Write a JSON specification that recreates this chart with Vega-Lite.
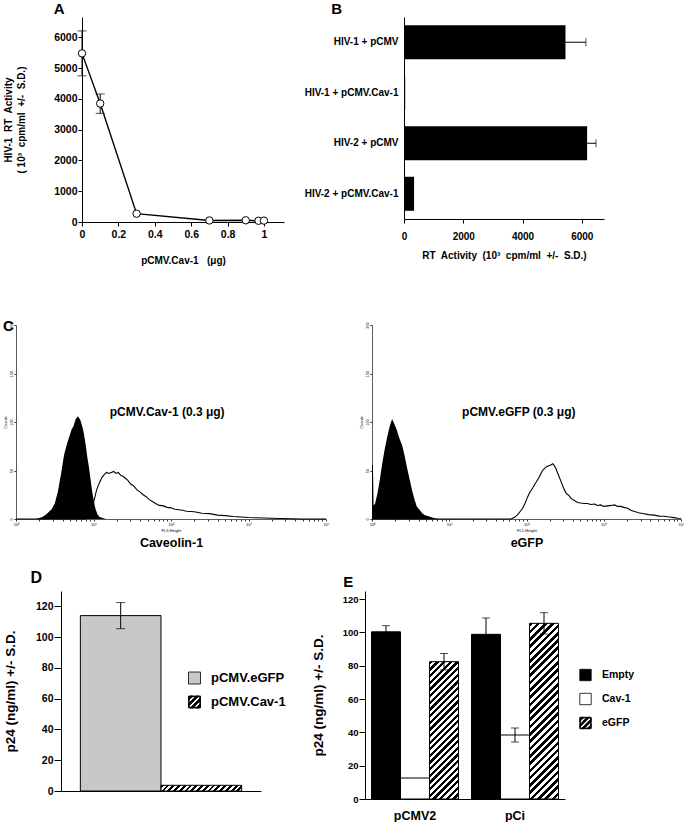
{
"$schema": "https://vega.github.io/schema/vega-lite/v6.json",
"padding": {"left": 0, "top": 2, "right": 0, "bottom": 0},
"config": {
  "font": "Liberation Sans",
  "view": {"stroke": null},
  "axis": {"grid": false, "labelOverlap": false, "labelFont": "Liberation Sans", "titleFont": "Liberation Sans", "labelFontWeight": "bold", "titleFontWeight": "bold", "labelColor": "#000", "titleColor": "#000", "domainColor": "#000", "tickColor": "#000", "domainWidth": 1, "tickWidth": 1},
  "title": {"font": "Liberation Sans", "fontWeight": "bold", "color": "#000", "fontSize": 15, "anchor": "start"},
  "text": {"font": "Liberation Sans", "fontWeight": "bold", "color": "#000"}
},
"datasets": {
  "a": [
    {"dose": 0, "rt": 5480, "lo": 4750, "hi": 6210},
    {"dose": 0.1, "rt": 3850, "lo": 3530, "hi": 4160},
    {"dose": 0.3, "rt": 270},
    {"dose": 0.7, "rt": 50},
    {"dose": 0.9, "rt": 55},
    {"dose": 0.97, "rt": 40},
    {"dose": 1.0, "rt": 45}
  ],
  "b": [
    {"cond": "HIV-1 + pCMV", "rt": 5450, "lo": 4800, "hi": 6140},
    {"cond": "HIV-1 + pCMV.Cav-1", "rt": 40},
    {"cond": "HIV-2 + pCMV", "rt": 6180, "lo": 5880, "hi": 6480},
    {"cond": "HIV-2 + pCMV.Cav-1", "rt": 340}
  ],
  "d": [
    {"vec": "pCMV.eGFP", "p24": 114, "lo": 105.5, "hi": 122.5},
    {"vec": "pCMV.Cav-1", "p24": 3.7}
  ],
  "e": [
    {"grp": "pCMV2", "ser": "Empty", "p24": 100.3, "lo": 96.6, "hi": 104},
    {"grp": "pCMV2", "ser": "Cav-1", "p24": 12.6},
    {"grp": "pCMV2", "ser": "eGFP", "p24": 82.4, "lo": 77.5, "hi": 87.3},
    {"grp": "pCi", "ser": "Empty", "p24": 98.8, "lo": 89, "hi": 108.6},
    {"grp": "pCi", "ser": "Cav-1", "p24": 38.4, "lo": 34.2, "hi": 42.6},
    {"grp": "pCi", "ser": "eGFP", "p24": 105.4, "lo": 99, "hi": 111.8}
  ],
  "c1fill": [
    {"lg": 0.2, "n": 0}, {"lg": 0.26, "n": 0}, {"lg": 0.3, "n": 1}, {"lg": 0.34, "n": 2}, {"lg": 0.38, "n": 4},
    {"lg": 0.42, "n": 7}, {"lg": 0.46, "n": 10}, {"lg": 0.5, "n": 16}, {"lg": 0.54, "n": 28}, {"lg": 0.58, "n": 46},
    {"lg": 0.62, "n": 66}, {"lg": 0.66, "n": 78}, {"lg": 0.7, "n": 88}, {"lg": 0.72, "n": 93}, {"lg": 0.74, "n": 95},
    {"lg": 0.77, "n": 103}, {"lg": 0.8, "n": 106}, {"lg": 0.83, "n": 102}, {"lg": 0.86, "n": 94}, {"lg": 0.88, "n": 86},
    {"lg": 0.9, "n": 76}, {"lg": 0.92, "n": 64}, {"lg": 0.94, "n": 54}, {"lg": 0.96, "n": 42}, {"lg": 0.98, "n": 30},
    {"lg": 1.0, "n": 20}, {"lg": 1.02, "n": 12}, {"lg": 1.05, "n": 5}, {"lg": 1.08, "n": 2}, {"lg": 1.12, "n": 1}, {"lg": 1.16, "n": 0}
  ],
  "c1open": [
    {"lg": 0, "n": 0}, {"lg": 0.9, "n": 0}, {"lg": 0.94, "n": 3}, {"lg": 0.98, "n": 10}, {"lg": 1.01, "n": 20},
    {"lg": 1.04, "n": 30}, {"lg": 1.08, "n": 38}, {"lg": 1.11, "n": 43}, {"lg": 1.14, "n": 46}, {"lg": 1.17, "n": 48},
    {"lg": 1.2, "n": 47}, {"lg": 1.23, "n": 48}, {"lg": 1.26, "n": 49}, {"lg": 1.29, "n": 47}, {"lg": 1.32, "n": 48},
    {"lg": 1.35, "n": 45}, {"lg": 1.38, "n": 44}, {"lg": 1.41, "n": 42}, {"lg": 1.44, "n": 40}, {"lg": 1.48, "n": 36},
    {"lg": 1.52, "n": 34}, {"lg": 1.56, "n": 30}, {"lg": 1.6, "n": 28}, {"lg": 1.64, "n": 25}, {"lg": 1.68, "n": 23},
    {"lg": 1.72, "n": 20}, {"lg": 1.76, "n": 18}, {"lg": 1.8, "n": 16}, {"lg": 1.85, "n": 14}, {"lg": 1.9, "n": 13.5},
    {"lg": 1.95, "n": 12}, {"lg": 2.0, "n": 11.5}, {"lg": 2.05, "n": 10}, {"lg": 2.1, "n": 9.5}, {"lg": 2.15, "n": 9},
    {"lg": 2.2, "n": 8}, {"lg": 2.3, "n": 7.5}, {"lg": 2.4, "n": 6}, {"lg": 2.5, "n": 5.5}, {"lg": 2.6, "n": 4},
    {"lg": 2.7, "n": 3.5}, {"lg": 2.8, "n": 2.5}, {"lg": 2.9, "n": 2}, {"lg": 3.0, "n": 1.5}, {"lg": 3.2, "n": 1},
    {"lg": 3.4, "n": 0.5}, {"lg": 3.7, "n": 0}, {"lg": 4.0, "n": 0}
  ],
  "c2fill": [
    {"lg": 0, "n": 56}, {"lg": 0.012, "n": 56}, {"lg": 0.02, "n": 14}, {"lg": 0.04, "n": 16}, {"lg": 0.07, "n": 26},
    {"lg": 0.1, "n": 40}, {"lg": 0.13, "n": 56}, {"lg": 0.16, "n": 70}, {"lg": 0.195, "n": 84}, {"lg": 0.23, "n": 96},
    {"lg": 0.26, "n": 103}, {"lg": 0.29, "n": 98}, {"lg": 0.32, "n": 92}, {"lg": 0.35, "n": 84}, {"lg": 0.39, "n": 76},
    {"lg": 0.42, "n": 66}, {"lg": 0.45, "n": 54}, {"lg": 0.49, "n": 40}, {"lg": 0.52, "n": 29}, {"lg": 0.55, "n": 20},
    {"lg": 0.58, "n": 13}, {"lg": 0.62, "n": 9}, {"lg": 0.65, "n": 6}, {"lg": 0.68, "n": 4}, {"lg": 0.72, "n": 3},
    {"lg": 0.76, "n": 2}, {"lg": 0.8, "n": 1}, {"lg": 0.86, "n": 0}
  ],
  "c2open": [
    {"lg": 0, "n": 0}, {"lg": 1.8, "n": 0}, {"lg": 1.85, "n": 2}, {"lg": 1.88, "n": 4}, {"lg": 1.92, "n": 8},
    {"lg": 1.95, "n": 11}, {"lg": 1.98, "n": 16}, {"lg": 2.01, "n": 22}, {"lg": 2.04, "n": 27}, {"lg": 2.08, "n": 32},
    {"lg": 2.11, "n": 36}, {"lg": 2.14, "n": 40}, {"lg": 2.17, "n": 44}, {"lg": 2.2, "n": 49}, {"lg": 2.23, "n": 52},
    {"lg": 2.26, "n": 54}, {"lg": 2.29, "n": 55}, {"lg": 2.32, "n": 56}, {"lg": 2.34, "n": 57}, {"lg": 2.36, "n": 55},
    {"lg": 2.38, "n": 52}, {"lg": 2.4, "n": 48}, {"lg": 2.42, "n": 44}, {"lg": 2.45, "n": 38}, {"lg": 2.48, "n": 32},
    {"lg": 2.51, "n": 27}, {"lg": 2.55, "n": 24}, {"lg": 2.58, "n": 21}, {"lg": 2.62, "n": 19}, {"lg": 2.66, "n": 17},
    {"lg": 2.7, "n": 16.5}, {"lg": 2.75, "n": 16}, {"lg": 2.79, "n": 16}, {"lg": 2.83, "n": 15}, {"lg": 2.88, "n": 15.5},
    {"lg": 2.92, "n": 14}, {"lg": 2.96, "n": 14.5}, {"lg": 3.0, "n": 13}, {"lg": 3.05, "n": 13.5}, {"lg": 3.1, "n": 14},
    {"lg": 3.14, "n": 14.5}, {"lg": 3.18, "n": 13}, {"lg": 3.22, "n": 13}, {"lg": 3.26, "n": 12}, {"lg": 3.31, "n": 11},
    {"lg": 3.35, "n": 9}, {"lg": 3.39, "n": 8}, {"lg": 3.45, "n": 6.5}, {"lg": 3.52, "n": 5.5}, {"lg": 3.58, "n": 4.5},
    {"lg": 3.65, "n": 4}, {"lg": 3.72, "n": 3}, {"lg": 3.78, "n": 2.8}, {"lg": 3.85, "n": 2}, {"lg": 3.91, "n": 1.4},
    {"lg": 3.96, "n": 0.8}, {"lg": 4.0, "n": 0.5}
  ]
},
"columns": 1,
"align": "none",
"spacing": 52,
"concat": [
  {"columns": 2, "align": "none", "spacing": 0, "concat": [
    {"width": 1, "height": 1, "view": {"stroke": "transparent"}, "data": {"values": []}, "mark": "rule", "encoding": {}},
    {"columns": 2, "align": "none", "spacing": 20, "concat": [
      {
        "width": 202, "height": 205,
        "title": {"text": "A", "dx": 50, "offset": 0},
        "layer": [
          {"data": {"name": "a"}, "mark": {"type": "line", "color": "#000", "strokeWidth": 1.4},
           "encoding": {
             "x": {"field": "dose", "type": "quantitative", "scale": {"domain": [0, 1.11], "nice": false, "zero": false},
               "axis": {"values": [0, 0.2, 0.4, 0.6, 0.8, 1], "tickCount": 20, "format": "~g", "labelOverlap": false, "tickSize": 4, "labelPadding": 3, "labelFontSize": 10.5, "labelFlush": false, "title": "pCMV.Cav-1\u00a0\u00a0 (μg)", "titleFontSize": 10, "titlePadding": 16}},
             "y": {"field": "rt", "type": "quantitative", "scale": {"domain": [0, 6662], "nice": false},
               "axis": {"values": [0, 1000, 2000, 3000, 4000, 5000, 6000], "tickCount": 20, "format": "d", "labelOverlap": false, "tickSize": 4, "labelPadding": 1, "labelFontSize": 10.5, "title": ["HIV-1\u00a0 RT\u00a0 Activity", "(\u00a010³\u00a0 cpm/ml\u00a0 +/-\u00a0 S.D.)"], "titleFontSize": 10, "titleLineHeight": 13, "titlePadding": 27}}
           }},
          {"data": {"name": "a"}, "transform": [{"filter": "isValid(datum.hi)"}], "mark": {"type": "rule", "color": "#000", "strokeWidth": 1},
           "encoding": {"x": {"field": "dose", "type": "quantitative"}, "y": {"field": "lo", "type": "quantitative"}, "y2": {"field": "hi"}}},
          {"data": {"name": "a"}, "transform": [{"filter": "isValid(datum.hi)"}], "mark": {"type": "tick", "orient": "horizontal", "size": 9, "thickness": 1, "color": "#000"},
           "encoding": {"x": {"field": "dose", "type": "quantitative"}, "y": {"field": "hi", "type": "quantitative"}}},
          {"data": {"name": "a"}, "transform": [{"filter": "isValid(datum.lo)"}], "mark": {"type": "tick", "orient": "horizontal", "size": 9, "thickness": 1, "color": "#000"},
           "encoding": {"x": {"field": "dose", "type": "quantitative"}, "y": {"field": "lo", "type": "quantitative"}}},
          {"data": {"name": "a"}, "mark": {"type": "point", "shape": "circle", "filled": true, "fill": "#fff", "stroke": "#000", "strokeWidth": 1, "size": 55, "opacity": 1},
           "encoding": {"x": {"field": "dose", "type": "quantitative"}, "y": {"field": "rt", "type": "quantitative"}}}
        ]
      },
      {
        "width": 200, "height": 202,
        "title": {"text": "B", "dx": 27, "offset": 0},
        "layer": [
          {"data": {"name": "b"}, "mark": {"type": "bar", "color": "#000"},
           "encoding": {
             "y": {"field": "cond", "type": "nominal", "scale": {"domain": ["HIV-1 + pCMV", "HIV-1 + pCMV.Cav-1", "HIV-2 + pCMV", "HIV-2 + pCMV.Cav-1"], "paddingInner": 0.327, "paddingOuter": 0.163},
               "axis": {"title": null, "ticks": false, "labelPadding": 6, "labelFontSize": 10}},
             "x": {"field": "rt", "type": "quantitative", "scale": {"domain": [0, 6750], "nice": false},
               "axis": {"values": [0, 2000, 4000, 6000], "tickCount": 20, "format": "d", "labelOverlap": false, "tickSize": 4, "labelPadding": 8, "labelFontSize": 10, "labelFlush": false, "title": "RT\u00a0 Activity\u00a0 (10³\u00a0 cpm/ml\u00a0 +/-\u00a0 S.D.)", "titleFontSize": 10, "titlePadding": 9}}
           }},
          {"data": {"name": "b"}, "transform": [{"filter": "isValid(datum.hi)"}], "mark": {"type": "rule", "color": "#000", "strokeWidth": 1},
           "encoding": {"y": {"field": "cond", "type": "nominal"}, "x": {"field": "lo", "type": "quantitative"}, "x2": {"field": "hi"}}},
          {"data": {"name": "b"}, "transform": [{"filter": "isValid(datum.hi)"}], "mark": {"type": "tick", "size": 8, "thickness": 1, "color": "#000"},
           "encoding": {"y": {"field": "cond", "type": "nominal"}, "x": {"field": "hi", "type": "quantitative"}}}
        ]
      }
    ]}
  ]},
  {"columns": 1, "align": "none", "spacing": 21, "concat": [
    {"columns": 2, "align": "none", "spacing": 0, "concat": [
      {"width": 1, "height": 1, "view": {"stroke": "transparent"}, "data": {"values": []}, "mark": "rule", "encoding": {}},
      {"columns": 2, "align": "none", "spacing": 29, "concat": [
        {
          "width": 310, "height": 194,
          "title": {"text": "C", "dx": 0, "offset": -12},
          "layer": [
            {"data": {"name": "c1open"}, "mark": {"type": "line", "color": "#000", "strokeWidth": 1.1},
             "encoding": {
               "x": {"field": "lg", "type": "quantitative", "scale": {"domain": [0, 4], "nice": false},
                 "axis": {"values": [0, 0.301, 0.477, 0.602, 0.699, 0.778, 0.845, 0.903, 0.954, 1, 1.301, 1.477, 1.602, 1.699, 1.778, 1.845, 1.903, 1.954, 2, 2.301, 2.477, 2.602, 2.699, 2.778, 2.845, 2.903, 2.954, 3, 3.301, 3.477, 3.602, 3.699, 3.778, 3.845, 3.903, 3.954, 4], "tickCount": 60,
                   "labelExpr": "datum.value == 0 ? '10⁰' : datum.value == 1 ? '10¹' : datum.value == 2 ? ['10²', 'FL3-Height'] : datum.value == 3 ? '10³' : datum.value == 4 ? '10⁴' : ''",
                   "labelFontSize": 4, "labelFontWeight": "normal", "labelLineHeight": 6, "labelPadding": 1, "labelFlush": false, "labelOverlap": false, "tickSize": 2, "tickColor": "#333", "domainColor": "#333", "domainWidth": 0.8,
                   "title": "Caveolin-1", "titleFontSize": 12.5, "titlePadding": 4}},
               "y": {"field": "n", "type": "quantitative", "scale": {"domain": [0, 200], "nice": false},
                 "axis": {"values": [0, 50, 100, 150, 200], "tickCount": 20, "labelOverlap": false, "labelFontSize": 4, "labelFontWeight": "normal", "labelAngle": -90, "labelPadding": 1, "tickSize": 2, "tickColor": "#333", "domainColor": "#333", "domainWidth": 0.8, "title": "Counts", "titleFontSize": 4, "titleFontWeight": "normal", "titlePadding": 2}}
             }},
            {"data": {"name": "c1fill"}, "mark": {"type": "area", "color": "#000"},
             "encoding": {"x": {"field": "lg", "type": "quantitative"}, "y": {"field": "n", "type": "quantitative"}}},
            {"data": {"values": [{"t": "pCMV.Cav-1 (0.3 μg)"}]}, "mark": {"type": "text", "fontSize": 12, "fontWeight": "bold"},
             "encoding": {"text": {"field": "t"}, "x": {"datum": 1.95}, "y": {"datum": 110}}}
          ]
        },
        {
          "width": 309, "height": 194,
          "layer": [
            {"data": {"name": "c2open"}, "mark": {"type": "line", "color": "#000", "strokeWidth": 1.1},
             "encoding": {
               "x": {"field": "lg", "type": "quantitative", "scale": {"domain": [0, 4], "nice": false},
                 "axis": {"values": [0, 0.301, 0.477, 0.602, 0.699, 0.778, 0.845, 0.903, 0.954, 1, 1.301, 1.477, 1.602, 1.699, 1.778, 1.845, 1.903, 1.954, 2, 2.301, 2.477, 2.602, 2.699, 2.778, 2.845, 2.903, 2.954, 3, 3.301, 3.477, 3.602, 3.699, 3.778, 3.845, 3.903, 3.954, 4], "tickCount": 60,
                   "labelExpr": "datum.value == 0 ? '10⁰' : datum.value == 1 ? '10¹' : datum.value == 2 ? ['10²', 'FL1-Height'] : datum.value == 3 ? '10³' : datum.value == 4 ? '10⁴' : ''",
                   "labelFontSize": 4, "labelFontWeight": "normal", "labelLineHeight": 6, "labelPadding": 1, "labelFlush": false, "labelOverlap": false, "tickSize": 2, "tickColor": "#333", "domainColor": "#333", "domainWidth": 0.8,
                   "title": "eGFP", "titleFontSize": 12.5, "titlePadding": 4}},
               "y": {"field": "n", "type": "quantitative", "scale": {"domain": [0, 200], "nice": false},
                 "axis": {"values": [0, 50, 100, 150, 200], "tickCount": 20, "labelOverlap": false, "labelFontSize": 4, "labelFontWeight": "normal", "labelAngle": -90, "labelPadding": 1, "tickSize": 2, "tickColor": "#333", "domainColor": "#333", "domainWidth": 0.8, "title": "Counts", "titleFontSize": 4, "titleFontWeight": "normal", "titlePadding": 2}}
             }},
            {"data": {"name": "c2fill"}, "mark": {"type": "area", "color": "#000"},
             "encoding": {"x": {"field": "lg", "type": "quantitative"}, "y": {"field": "n", "type": "quantitative"}}},
            {"data": {"values": [{"t": "pCMV.eGFP (0.3 μg)"}]}, "mark": {"type": "text", "fontSize": 12, "fontWeight": "bold"},
             "encoding": {"text": {"field": "t"}, "x": {"datum": 1.9}, "y": {"datum": 110}}}
          ]
        }
      ]}
    ]},
    {"columns": 2, "align": "none", "spacing": 0, "concat": [
      {"width": 1, "height": 1, "view": {"stroke": "transparent"}, "data": {"values": []}, "mark": "rule", "encoding": {}},
      {"columns": 2, "align": "none", "spacing": 25, "resolve": {"scale": {"fill": "independent", "shape": "independent"}}, "concat": [
        {
          "width": 200, "height": 200,
          "title": {"text": "D", "fontSize": 16, "dx": 27, "offset": 5},
          "resolve": {"scale": {"x": "independent", "y": "independent"}},
          "layer": [
            {"layer": [
              {"data": {"name": "d"}, "transform": [{"filter": "datum.vec == 'pCMV.eGFP'"}], "mark": {"type": "bar", "fill": "#c8c8c8", "stroke": "#000", "strokeWidth": 1},
               "encoding": {
                 "x": {"field": "vec", "type": "nominal", "scale": {"domain": ["pCMV.eGFP", "pCMV.Cav-1"], "paddingInner": 0, "paddingOuter": 0.24}, "axis": {"title": null, "labels": false, "ticks": false}},
                 "y": {"field": "p24", "type": "quantitative", "scale": {"domain": [0, 130], "nice": false},
                   "axis": {"values": [0, 20, 40, 60, 80, 100, 120], "tickCount": 20, "labelOverlap": false, "tickSize": 7, "labelPadding": 1, "labelFontSize": 10.5, "title": "p24 (ng/ml) +/- S.D.", "titleFontSize": 13.5, "titlePadding": 18}}
               }},
              {"data": {"name": "d"}, "transform": [{"filter": "datum.vec == 'pCMV.Cav-1'"}],
               "mark": {"type": "bar", "stroke": "#000", "strokeWidth": 1, "fill": {"gradient": "linear", "x1": 0, "y1": 0, "x2": 1.0655, "y2": 0.0754, "stops": [{"offset": 0, "color": "#000"}, {"offset": 0.0333, "color": "#000"}, {"offset": 0.0333, "color": "#fff"}, {"offset": 0.0667, "color": "#fff"}, {"offset": 0.0667, "color": "#000"}, {"offset": 0.1, "color": "#000"}, {"offset": 0.1, "color": "#fff"}, {"offset": 0.1333, "color": "#fff"}, {"offset": 0.1333, "color": "#000"}, {"offset": 0.1667, "color": "#000"}, {"offset": 0.1667, "color": "#fff"}, {"offset": 0.2, "color": "#fff"}, {"offset": 0.2, "color": "#000"}, {"offset": 0.2333, "color": "#000"}, {"offset": 0.2333, "color": "#fff"}, {"offset": 0.2667, "color": "#fff"}, {"offset": 0.2667, "color": "#000"}, {"offset": 0.3, "color": "#000"}, {"offset": 0.3, "color": "#fff"}, {"offset": 0.3333, "color": "#fff"}, {"offset": 0.3333, "color": "#000"}, {"offset": 0.3667, "color": "#000"}, {"offset": 0.3667, "color": "#fff"}, {"offset": 0.4, "color": "#fff"}, {"offset": 0.4, "color": "#000"}, {"offset": 0.4333, "color": "#000"}, {"offset": 0.4333, "color": "#fff"}, {"offset": 0.4667, "color": "#fff"}, {"offset": 0.4667, "color": "#000"}, {"offset": 0.5, "color": "#000"}, {"offset": 0.5, "color": "#fff"}, {"offset": 0.5333, "color": "#fff"}, {"offset": 0.5333, "color": "#000"}, {"offset": 0.5667, "color": "#000"}, {"offset": 0.5667, "color": "#fff"}, {"offset": 0.6, "color": "#fff"}, {"offset": 0.6, "color": "#000"}, {"offset": 0.6333, "color": "#000"}, {"offset": 0.6333, "color": "#fff"}, {"offset": 0.6667, "color": "#fff"}, {"offset": 0.6667, "color": "#000"}, {"offset": 0.7, "color": "#000"}, {"offset": 0.7, "color": "#fff"}, {"offset": 0.7333, "color": "#fff"}, {"offset": 0.7333, "color": "#000"}, {"offset": 0.7667, "color": "#000"}, {"offset": 0.7667, "color": "#fff"}, {"offset": 0.8, "color": "#fff"}, {"offset": 0.8, "color": "#000"}, {"offset": 0.8333, "color": "#000"}, {"offset": 0.8333, "color": "#fff"}, {"offset": 0.8667, "color": "#fff"}, {"offset": 0.8667, "color": "#000"}, {"offset": 0.9, "color": "#000"}, {"offset": 0.9, "color": "#fff"}, {"offset": 0.9333, "color": "#fff"}, {"offset": 0.9333, "color": "#000"}, {"offset": 0.9667, "color": "#000"}, {"offset": 0.9667, "color": "#fff"}, {"offset": 1, "color": "#fff"}]}},
               "encoding": {"x": {"field": "vec", "type": "nominal"}, "y": {"field": "p24", "type": "quantitative"}}},
              {"data": {"name": "d"}, "transform": [{"filter": "isValid(datum.hi)"}], "mark": {"type": "rule", "color": "#000", "strokeWidth": 1},
               "encoding": {"x": {"field": "vec", "type": "nominal"}, "y": {"field": "lo", "type": "quantitative"}, "y2": {"field": "hi"}}},
              {"data": {"name": "d"}, "transform": [{"filter": "isValid(datum.hi)"}], "mark": {"type": "tick", "size": 9, "thickness": 1, "color": "#000"},
               "encoding": {"x": {"field": "vec", "type": "nominal"}, "y": {"field": "hi", "type": "quantitative"}}},
              {"data": {"name": "d"}, "transform": [{"filter": "isValid(datum.lo)"}], "mark": {"type": "tick", "size": 9, "thickness": 1, "color": "#000"},
               "encoding": {"x": {"field": "vec", "type": "nominal"}, "y": {"field": "lo", "type": "quantitative"}}}
            ]},
            {"layer": [
              {"data": {"name": "d"}, "mark": {"type": "point", "filled": true, "opacity": 1, "stroke": "#000", "strokeWidth": 0.8, "size": 144},
               "encoding": {
                 "x": {"datum": 0.6675, "type": "quantitative", "scale": {"domain": [0, 1], "nice": false}, "axis": null},
                 "y": {"field": "vec", "type": "nominal", "scale": {"type": "point", "domain": ["pCMV.eGFP", "pCMV.Cav-1"], "range": [87, 111], "padding": 0}, "axis": null},
                 "fill": {"field": "vec", "type": "nominal", "scale": {"domain": ["pCMV.eGFP", "pCMV.Cav-1"], "range": ["#c8c8c8", "#000"]}, "legend": null},
                 "shape": {"field": "vec", "type": "nominal", "scale": {"domain": ["pCMV.eGFP", "pCMV.Cav-1"], "range": ["square", "M-1,-1H1V1H-1ZM-0.88,-0.88V0.88H0.88V-0.88ZM-1,-0.75L-0.75,-1L-0.25,-1L-1,-0.25ZM-1,0.25L0.25,-1L0.75,-1L-1,0.75ZM-0.75,1L1,-0.75L1,-0.25L-0.25,1ZM0.25,1L1,0.25L1,0.75L0.75,1Z"]}, "legend": null}
               }},
              {"data": {"name": "d"}, "mark": {"type": "text", "align": "left", "baseline": "middle", "fontSize": 13, "fontWeight": "bold"},
               "encoding": {"x": {"datum": 0.75, "type": "quantitative"}, "y": {"field": "vec", "type": "nominal"}, "text": {"field": "vec"}}}
            ]}
          ]
        },
        {
          "width": 200, "height": 208,
          "title": {"text": "E", "dx": 32, "offset": 1},
          "resolve": {"scale": {"x": "independent", "y": "independent"}},
          "layer": [
            {"layer": [
              {"data": {"name": "e"}, "transform": [{"filter": "datum.ser == 'Empty'"}], "mark": {"type": "bar", "fill": "#000", "stroke": "#000", "strokeWidth": 1},
               "encoding": {
                 "x": {"field": "grp", "type": "nominal", "scale": {"domain": ["pCMV2", "pCi"], "paddingInner": 0.13, "paddingOuter": 0.065},
                   "axis": {"title": null, "ticks": false, "labelAngle": 0, "labelPadding": 10, "labelFontSize": 12.5}},
                 "xOffset": {"field": "ser", "type": "nominal", "scale": {"domain": ["Empty", "Cav-1", "eGFP"], "paddingInner": 0, "paddingOuter": 0}},
                 "y": {"field": "p24", "type": "quantitative", "scale": {"domain": [0, 124.8], "nice": false},
                   "axis": {"values": [0, 20, 40, 60, 80, 100, 120], "tickCount": 20, "labelOverlap": false, "tickSize": 6, "labelPadding": 1, "labelFontSize": 9.5, "title": "p24 (ng/ml) +/- S.D.", "titleFontSize": 13.5, "titlePadding": 17}}
               }},
              {"data": {"name": "e"}, "transform": [{"filter": "datum.ser == 'Cav-1'"}], "mark": {"type": "bar", "fill": "#fff", "stroke": "#000", "strokeWidth": 1},
               "encoding": {"x": {"field": "grp", "type": "nominal"}, "xOffset": {"field": "ser", "type": "nominal"}, "y": {"field": "p24", "type": "quantitative"}}},
              {"data": {"name": "e"}, "transform": [{"filter": "datum.ser == 'eGFP' && datum.grp == 'pCMV2'"}],
               "mark": {"type": "bar", "stroke": "#000", "strokeWidth": 1, "fill": {"gradient": "linear", "x1": 0, "y1": 0, "x2": 0.2449, "y2": 1.1595, "stops": [{"offset": 0, "color": "#000"}, {"offset": 0.02, "color": "#000"}, {"offset": 0.02, "color": "#fff"}, {"offset": 0.04, "color": "#fff"}, {"offset": 0.04, "color": "#000"}, {"offset": 0.06, "color": "#000"}, {"offset": 0.06, "color": "#fff"}, {"offset": 0.08, "color": "#fff"}, {"offset": 0.08, "color": "#000"}, {"offset": 0.1, "color": "#000"}, {"offset": 0.1, "color": "#fff"}, {"offset": 0.12, "color": "#fff"}, {"offset": 0.12, "color": "#000"}, {"offset": 0.14, "color": "#000"}, {"offset": 0.14, "color": "#fff"}, {"offset": 0.16, "color": "#fff"}, {"offset": 0.16, "color": "#000"}, {"offset": 0.18, "color": "#000"}, {"offset": 0.18, "color": "#fff"}, {"offset": 0.2, "color": "#fff"}, {"offset": 0.2, "color": "#000"}, {"offset": 0.22, "color": "#000"}, {"offset": 0.22, "color": "#fff"}, {"offset": 0.24, "color": "#fff"}, {"offset": 0.24, "color": "#000"}, {"offset": 0.26, "color": "#000"}, {"offset": 0.26, "color": "#fff"}, {"offset": 0.28, "color": "#fff"}, {"offset": 0.28, "color": "#000"}, {"offset": 0.3, "color": "#000"}, {"offset": 0.3, "color": "#fff"}, {"offset": 0.32, "color": "#fff"}, {"offset": 0.32, "color": "#000"}, {"offset": 0.34, "color": "#000"}, {"offset": 0.34, "color": "#fff"}, {"offset": 0.36, "color": "#fff"}, {"offset": 0.36, "color": "#000"}, {"offset": 0.38, "color": "#000"}, {"offset": 0.38, "color": "#fff"}, {"offset": 0.4, "color": "#fff"}, {"offset": 0.4, "color": "#000"}, {"offset": 0.42, "color": "#000"}, {"offset": 0.42, "color": "#fff"}, {"offset": 0.44, "color": "#fff"}, {"offset": 0.44, "color": "#000"}, {"offset": 0.46, "color": "#000"}, {"offset": 0.46, "color": "#fff"}, {"offset": 0.48, "color": "#fff"}, {"offset": 0.48, "color": "#000"}, {"offset": 0.5, "color": "#000"}, {"offset": 0.5, "color": "#fff"}, {"offset": 0.52, "color": "#fff"}, {"offset": 0.52, "color": "#000"}, {"offset": 0.54, "color": "#000"}, {"offset": 0.54, "color": "#fff"}, {"offset": 0.56, "color": "#fff"}, {"offset": 0.56, "color": "#000"}, {"offset": 0.58, "color": "#000"}, {"offset": 0.58, "color": "#fff"}, {"offset": 0.6, "color": "#fff"}, {"offset": 0.6, "color": "#000"}, {"offset": 0.62, "color": "#000"}, {"offset": 0.62, "color": "#fff"}, {"offset": 0.64, "color": "#fff"}, {"offset": 0.64, "color": "#000"}, {"offset": 0.66, "color": "#000"}, {"offset": 0.66, "color": "#fff"}, {"offset": 0.68, "color": "#fff"}, {"offset": 0.68, "color": "#000"}, {"offset": 0.7, "color": "#000"}, {"offset": 0.7, "color": "#fff"}, {"offset": 0.72, "color": "#fff"}, {"offset": 0.72, "color": "#000"}, {"offset": 0.74, "color": "#000"}, {"offset": 0.74, "color": "#fff"}, {"offset": 0.76, "color": "#fff"}, {"offset": 0.76, "color": "#000"}, {"offset": 0.78, "color": "#000"}, {"offset": 0.78, "color": "#fff"}, {"offset": 0.8, "color": "#fff"}, {"offset": 0.8, "color": "#000"}, {"offset": 0.82, "color": "#000"}, {"offset": 0.82, "color": "#fff"}, {"offset": 0.84, "color": "#fff"}, {"offset": 0.84, "color": "#000"}, {"offset": 0.86, "color": "#000"}, {"offset": 0.86, "color": "#fff"}, {"offset": 0.88, "color": "#fff"}, {"offset": 0.88, "color": "#000"}, {"offset": 0.9, "color": "#000"}, {"offset": 0.9, "color": "#fff"}, {"offset": 0.92, "color": "#fff"}, {"offset": 0.92, "color": "#000"}, {"offset": 0.94, "color": "#000"}, {"offset": 0.94, "color": "#fff"}, {"offset": 0.96, "color": "#fff"}, {"offset": 0.96, "color": "#000"}, {"offset": 0.98, "color": "#000"}, {"offset": 0.98, "color": "#fff"}, {"offset": 1, "color": "#fff"}]}},
               "encoding": {"x": {"field": "grp", "type": "nominal"}, "xOffset": {"field": "ser", "type": "nominal"}, "y": {"field": "p24", "type": "quantitative"}}},
              {"data": {"name": "e"}, "transform": [{"filter": "datum.ser == 'eGFP' && datum.grp == 'pCi'"}],
               "mark": {"type": "bar", "stroke": "#000", "strokeWidth": 1, "fill": {"gradient": "linear", "x1": 0, "y1": 0, "x2": 0.1872, "y2": 1.1341, "stops": [{"offset": 0, "color": "#000"}, {"offset": 0.0179, "color": "#000"}, {"offset": 0.0179, "color": "#fff"}, {"offset": 0.0357, "color": "#fff"}, {"offset": 0.0357, "color": "#000"}, {"offset": 0.0536, "color": "#000"}, {"offset": 0.0536, "color": "#fff"}, {"offset": 0.0714, "color": "#fff"}, {"offset": 0.0714, "color": "#000"}, {"offset": 0.0893, "color": "#000"}, {"offset": 0.0893, "color": "#fff"}, {"offset": 0.1071, "color": "#fff"}, {"offset": 0.1071, "color": "#000"}, {"offset": 0.125, "color": "#000"}, {"offset": 0.125, "color": "#fff"}, {"offset": 0.1429, "color": "#fff"}, {"offset": 0.1429, "color": "#000"}, {"offset": 0.1607, "color": "#000"}, {"offset": 0.1607, "color": "#fff"}, {"offset": 0.1786, "color": "#fff"}, {"offset": 0.1786, "color": "#000"}, {"offset": 0.1964, "color": "#000"}, {"offset": 0.1964, "color": "#fff"}, {"offset": 0.2143, "color": "#fff"}, {"offset": 0.2143, "color": "#000"}, {"offset": 0.2321, "color": "#000"}, {"offset": 0.2321, "color": "#fff"}, {"offset": 0.25, "color": "#fff"}, {"offset": 0.25, "color": "#000"}, {"offset": 0.2679, "color": "#000"}, {"offset": 0.2679, "color": "#fff"}, {"offset": 0.2857, "color": "#fff"}, {"offset": 0.2857, "color": "#000"}, {"offset": 0.3036, "color": "#000"}, {"offset": 0.3036, "color": "#fff"}, {"offset": 0.3214, "color": "#fff"}, {"offset": 0.3214, "color": "#000"}, {"offset": 0.3393, "color": "#000"}, {"offset": 0.3393, "color": "#fff"}, {"offset": 0.3571, "color": "#fff"}, {"offset": 0.3571, "color": "#000"}, {"offset": 0.375, "color": "#000"}, {"offset": 0.375, "color": "#fff"}, {"offset": 0.3929, "color": "#fff"}, {"offset": 0.3929, "color": "#000"}, {"offset": 0.4107, "color": "#000"}, {"offset": 0.4107, "color": "#fff"}, {"offset": 0.4286, "color": "#fff"}, {"offset": 0.4286, "color": "#000"}, {"offset": 0.4464, "color": "#000"}, {"offset": 0.4464, "color": "#fff"}, {"offset": 0.4643, "color": "#fff"}, {"offset": 0.4643, "color": "#000"}, {"offset": 0.4821, "color": "#000"}, {"offset": 0.4821, "color": "#fff"}, {"offset": 0.5, "color": "#fff"}, {"offset": 0.5, "color": "#000"}, {"offset": 0.5179, "color": "#000"}, {"offset": 0.5179, "color": "#fff"}, {"offset": 0.5357, "color": "#fff"}, {"offset": 0.5357, "color": "#000"}, {"offset": 0.5536, "color": "#000"}, {"offset": 0.5536, "color": "#fff"}, {"offset": 0.5714, "color": "#fff"}, {"offset": 0.5714, "color": "#000"}, {"offset": 0.5893, "color": "#000"}, {"offset": 0.5893, "color": "#fff"}, {"offset": 0.6071, "color": "#fff"}, {"offset": 0.6071, "color": "#000"}, {"offset": 0.625, "color": "#000"}, {"offset": 0.625, "color": "#fff"}, {"offset": 0.6429, "color": "#fff"}, {"offset": 0.6429, "color": "#000"}, {"offset": 0.6607, "color": "#000"}, {"offset": 0.6607, "color": "#fff"}, {"offset": 0.6786, "color": "#fff"}, {"offset": 0.6786, "color": "#000"}, {"offset": 0.6964, "color": "#000"}, {"offset": 0.6964, "color": "#fff"}, {"offset": 0.7143, "color": "#fff"}, {"offset": 0.7143, "color": "#000"}, {"offset": 0.7321, "color": "#000"}, {"offset": 0.7321, "color": "#fff"}, {"offset": 0.75, "color": "#fff"}, {"offset": 0.75, "color": "#000"}, {"offset": 0.7679, "color": "#000"}, {"offset": 0.7679, "color": "#fff"}, {"offset": 0.7857, "color": "#fff"}, {"offset": 0.7857, "color": "#000"}, {"offset": 0.8036, "color": "#000"}, {"offset": 0.8036, "color": "#fff"}, {"offset": 0.8214, "color": "#fff"}, {"offset": 0.8214, "color": "#000"}, {"offset": 0.8393, "color": "#000"}, {"offset": 0.8393, "color": "#fff"}, {"offset": 0.8571, "color": "#fff"}, {"offset": 0.8571, "color": "#000"}, {"offset": 0.875, "color": "#000"}, {"offset": 0.875, "color": "#fff"}, {"offset": 0.8929, "color": "#fff"}, {"offset": 0.8929, "color": "#000"}, {"offset": 0.9107, "color": "#000"}, {"offset": 0.9107, "color": "#fff"}, {"offset": 0.9286, "color": "#fff"}, {"offset": 0.9286, "color": "#000"}, {"offset": 0.9464, "color": "#000"}, {"offset": 0.9464, "color": "#fff"}, {"offset": 0.9643, "color": "#fff"}, {"offset": 0.9643, "color": "#000"}, {"offset": 0.9821, "color": "#000"}, {"offset": 0.9821, "color": "#fff"}, {"offset": 1, "color": "#fff"}]}},
               "encoding": {"x": {"field": "grp", "type": "nominal"}, "xOffset": {"field": "ser", "type": "nominal"}, "y": {"field": "p24", "type": "quantitative"}}},
              {"data": {"name": "e"}, "transform": [{"filter": "isValid(datum.hi)"}], "mark": {"type": "rule", "color": "#000", "strokeWidth": 1},
               "encoding": {"x": {"field": "grp", "type": "nominal"}, "xOffset": {"field": "ser", "type": "nominal"}, "y": {"field": "lo", "type": "quantitative"}, "y2": {"field": "hi"}}},
              {"data": {"name": "e"}, "transform": [{"filter": "isValid(datum.hi)"}], "mark": {"type": "tick", "size": 8, "thickness": 1, "color": "#000"},
               "encoding": {"x": {"field": "grp", "type": "nominal"}, "xOffset": {"field": "ser", "type": "nominal"}, "y": {"field": "hi", "type": "quantitative"}}},
              {"data": {"name": "e"}, "transform": [{"filter": "isValid(datum.lo)"}], "mark": {"type": "tick", "size": 8, "thickness": 1, "color": "#000"},
               "encoding": {"x": {"field": "grp", "type": "nominal"}, "xOffset": {"field": "ser", "type": "nominal"}, "y": {"field": "lo", "type": "quantitative"}}}
            ]},
            {"layer": [
              {"data": {"name": "e"}, "transform": [{"filter": "datum.grp == 'pCMV2'"}], "mark": {"type": "point", "filled": true, "opacity": 1, "stroke": "#000", "strokeWidth": 0.8, "size": 130},
               "encoding": {
                 "x": {"datum": 1.1025, "type": "quantitative", "scale": {"domain": [0, 1], "nice": false}, "axis": null},
                 "y": {"field": "ser", "type": "nominal", "scale": {"type": "point", "domain": ["Empty", "Cav-1", "eGFP"], "range": [84, 132], "padding": 0}, "axis": null},
                 "fill": {"field": "ser", "type": "nominal", "scale": {"domain": ["Empty", "Cav-1", "eGFP"], "range": ["#000", "#fff", "#000"]}, "legend": null},
                 "shape": {"field": "ser", "type": "nominal", "scale": {"domain": ["Empty", "Cav-1", "eGFP"], "range": ["square", "square", "M-1,-1H1V1H-1ZM-0.88,-0.88V0.88H0.88V-0.88ZM-1,-0.75L-0.75,-1L-0.25,-1L-1,-0.25ZM-1,0.25L0.25,-1L0.75,-1L-1,0.75ZM-0.75,1L1,-0.75L1,-0.25L-0.25,1ZM0.25,1L1,0.25L1,0.75L0.75,1Z"]}, "legend": null}
               }},
              {"data": {"name": "e"}, "transform": [{"filter": "datum.grp == 'pCMV2'"}], "mark": {"type": "text", "align": "left", "baseline": "middle", "fontSize": 10.5, "fontWeight": "bold"},
               "encoding": {"x": {"datum": 1.185, "type": "quantitative"}, "y": {"field": "ser", "type": "nominal"}, "text": {"field": "ser"}}}
            ]}
          ]
        }
      ]}
    ]}
  ]}
]
}
